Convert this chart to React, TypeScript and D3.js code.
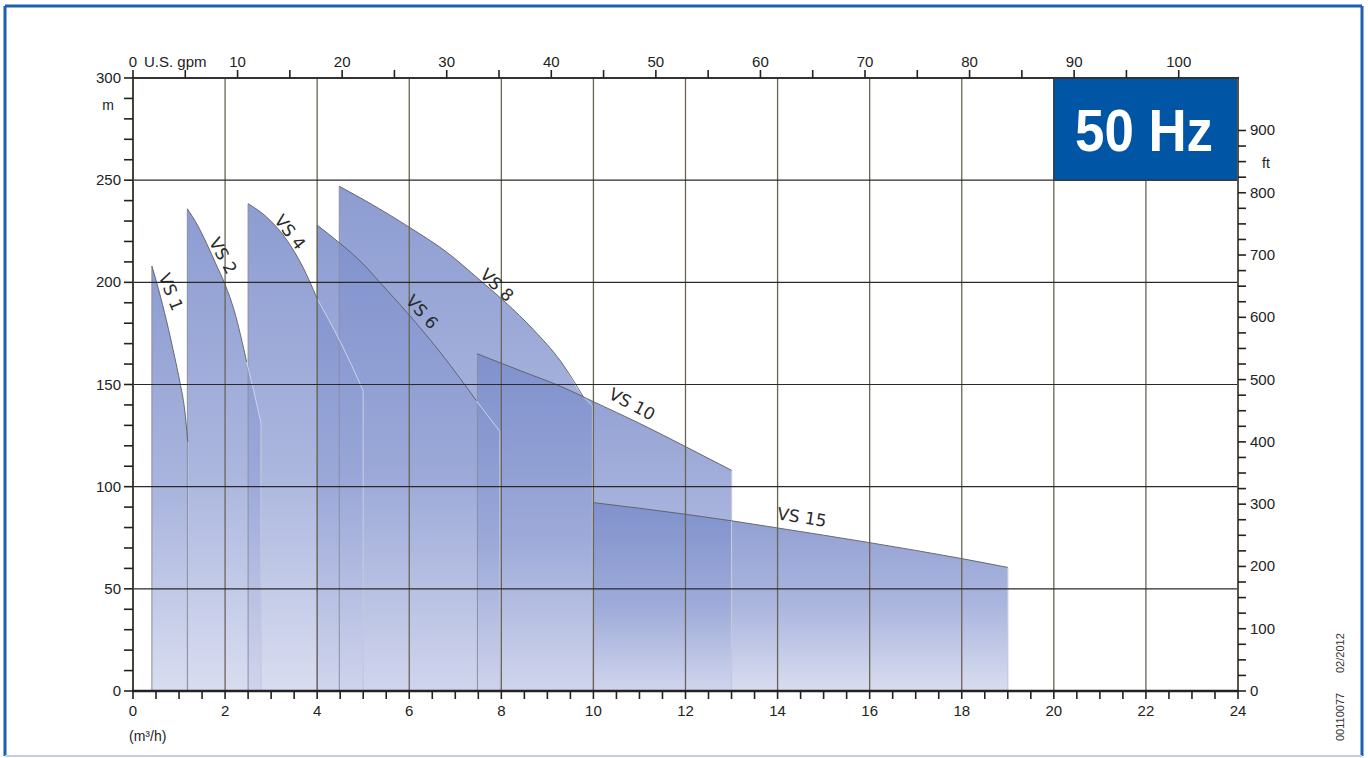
import React from "react";
import * as d3 from "d3";

// ---------- data ----------
const PUMP_NAMES = ["VS 1", "VS 2", "VS 4", "VS 6", "VS 8", "VS 10", "VS 15"];

// main curve points [flow m3/h, head m]
const VS1 = [[0.41, 208], [0.55, 197], [0.73, 181], [0.9, 164], [1.02, 151], [1.12, 138], [1.19, 122]];
const VS2 = [[1.18, 236], [1.4, 228], [1.6, 219], [1.8, 209], [2.0, 199], [2.2, 186], [2.47, 161]];
const VS4 = [[2.5, 238.5], [2.9, 232], [3.3, 222], [3.7, 207], [4.0, 192]];
const VS6 = [[4.0, 228], [4.5, 219], [5.0, 209], [5.36, 200], [6.0, 184], [6.7, 165], [7.46, 142]];
const VS8 = [[4.48, 247], [5.2, 238], [6.0, 227], [6.8, 215], [7.54, 201], [8.1, 190], [8.69, 177], [9.3, 161], [9.78, 144]];
const VS10 = [[7.48, 165], [8.5, 156], [9.3, 149], [10.0, 141.6], [11.0, 131], [12.0, 119.6], [13.0, 108]];
const VS15 = [[10.0, 92.2], [12.0, 86.5], [13.0, 83.3], [14.0, 79.8], [16.0, 72.6], [18.0, 64.8], [19.0, 60.5]];

// faded extensions of the curves
const VS1_EXT: number[][] = [];
const VS2_EXT = [[2.47, 161], [2.62, 147], [2.78, 131]];
const VS4_EXT = [[4.0, 192], [4.5, 171], [5.0, 147]];
const VS6_EXT = [[7.46, 142], [7.97, 127]];
const VS8_EXT = [[9.78, 144], [9.98, 139.5]];
const VS10_EXT: number[][] = [];
const VS15_EXT: number[][] = [];

const MAIN = [VS1, VS2, VS4, VS6, VS8, VS10, VS15];
const EXT = [VS1_EXT, VS2_EXT, VS4_EXT, VS6_EXT, VS8_EXT, VS10_EXT, VS15_EXT];

// label anchor [flow, head, angle]
const LABEL_AT = [
  [0.825, 195.3, 68],
  [1.955, 213, 61],
  [3.41, 224.6, 52],
  [6.28, 185.5, 48],
  [7.905, 198.7, 44],
  [10.84, 140.4, 28],
  [14.53, 85.1, 9],
];

const X_LABELS = [0, 2, 4, 6, 8, 10, 12, 14, 16, 18, 20, 22, 24];
const Y_LABELS = [0, 50, 100, 150, 200, 250, 300];
const GPM_LABELS = [0, 10, 20, 30, 40, 50, 60, 70, 80, 90, 100];
const FT_LABELS = [0, 100, 200, 300, 400, 500, 600, 700, 800, 900];

const M3H_TO_GPM = 4.40287;
const M_TO_FT = 3.28084;

// ---------- layout ----------
const W = 1368;
const H = 758;
const L = 133;
const R = 1238;
const T = 78;
const B = 691;

const x = d3.scaleLinear().domain([0, 24]).range([L, R]);
const y = d3.scaleLinear().domain([0, 300]).range([B, T]);
const xg = d3.scaleLinear().domain([0, 24 * M3H_TO_GPM]).range([L, R]);
const yf = d3.scaleLinear().domain([0, 300 * M_TO_FT]).range([B, T]);

const FONT = "'Liberation Sans', Arial, Helvetica, sans-serif";

export default function App() {
  const area = d3
    .area<number[]>()
    .x((d) => x(d[0]))
    .y0(y(0))
    .y1((d) => y(d[1]))
    .curve(d3.curveMonotoneX);
  const line = d3
    .line<number[]>()
    .x((d) => x(d[0]))
    .y((d) => y(d[1]))
    .curve(d3.curveMonotoneX);

  const bottomTicks = d3.range(0, 24.001, 0.5);
  const leftTicks = d3.range(0, 300.001, 10);
  const topTicks = d3.range(0, 100.001, 5);
  const rightTicks = d3.range(0, 900.001, 25);
  const vGrid = d3.range(2, 23, 2);
  const hGrid = [50, 100, 150, 200, 250];

  return (
    <svg
      width={W}
      height={H}
      viewBox={`0 0 ${W} ${H}`}
      style={{ position: "absolute", left: 0, top: 0, background: "#fff" }}
    >
      <defs>
        <linearGradient id="pumpFill" x1="0" y1="0" x2="0" y2="1">
          <stop offset="0" stopColor="rgb(122,140,202)" stopOpacity={0.86} />
          <stop offset="0.55" stopColor="rgb(150,164,214)" stopOpacity={0.8} />
          <stop offset="1" stopColor="rgb(206,211,236)" stopOpacity={0.78} />
        </linearGradient>
      </defs>

      <rect x={0} y={0} width={W} height={H} fill="#fff" />

      {/* pump areas */}
      {MAIN.map((pts, i) => {
        const all = pts.concat(EXT[i].slice(1));
        return <path key={"a" + i} d={area(all) || ""} fill="url(#pumpFill)" stroke="none" />;
      })}

      {/* edges */}
      {MAIN.map((pts, i) => {
        const all = pts.concat(EXT[i].slice(1));
        const first = all[0];
        const last = all[all.length - 1];
        return (
          <g key={"e" + i}>
            <line x1={x(first[0])} x2={x(first[0])} y1={y(0)} y2={y(first[1])} stroke="#8a8e9e" strokeWidth={1} />
            <line x1={x(last[0])} x2={x(last[0])} y1={y(0)} y2={y(last[1])} stroke="#c4c8dc" strokeWidth={1.2} />
          </g>
        );
      })}

      {/* curve tops */}
      {MAIN.map((pts, i) => (
        <g key={"c" + i}>
          <path d={line(pts) || ""} fill="none" stroke="#5c5c62" strokeWidth={0.9} />
          {EXT[i].length > 1 && (
            <path d={line(EXT[i]) || ""} fill="none" stroke="#cdd2ea" strokeWidth={1} />
          )}
        </g>
      ))}

      {/* grid */}
      {vGrid.map((v) => (
        <line key={"vg" + v} x1={x(v)} x2={x(v)} y1={T} y2={B} stroke="#6b6456" strokeWidth={1.3} />
      ))}
      {hGrid.map((v) => (
        <line key={"hg" + v} x1={L} x2={R} y1={y(v)} y2={y(v)} stroke="#2a2a2a" strokeWidth={1.1} />
      ))}

      {/* 50 Hz box */}
      <rect x={x(20)} y={y(300)} width={x(24) - x(20)} height={y(250) - y(300)} fill="#0055a4" stroke="#333" strokeWidth={1.2} />
      <text
        x={1144}
        y={151}
        fill="#fff"
        fontFamily={FONT}
        fontWeight="bold"
        fontSize={60}
        textAnchor="middle"
        textLength={138}
        lengthAdjust="spacingAndGlyphs"
      >
        50 Hz
      </text>

      {/* axes lines */}
      <line x1={L} x2={L} y1={T} y2={B} stroke="#4a4438" strokeWidth={2} />
      <line x1={R} x2={R} y1={T} y2={B} stroke="#5a5346" strokeWidth={2} />
      <line x1={L - 1} x2={R + 1} y1={T} y2={T} stroke="#333" strokeWidth={2} />
      <line x1={L - 1} x2={R + 1} y1={B} y2={B} stroke="#222" strokeWidth={2.6} />

      {/* bottom ticks */}
      {bottomTicks.map((v) => (
        <line key={"bt" + v} x1={x(v)} x2={x(v)} y1={B} y2={B + 8} stroke="#222" strokeWidth={1.6} />
      ))}
      {X_LABELS.map((v) => (
        <text key={"bl" + v} x={x(v)} y={716} fontFamily={FONT} fontSize={15} fill="#222" textAnchor="middle">
          {v}
        </text>
      ))}
      <text x={129} y={741} fontFamily={FONT} fontSize={14} fill="#222">
        (m³/h)
      </text>

      {/* left ticks */}
      {leftTicks.map((v) => (
        <line key={"lt" + v} x1={L - 9} x2={L} y1={y(v)} y2={y(v)} stroke="#222" strokeWidth={1.6} />
      ))}
      {Y_LABELS.map((v) => (
        <text key={"ll" + v} x={121} y={y(v) + 5} fontFamily={FONT} fontSize={15} fill="#222" textAnchor="end">
          {v}
        </text>
      ))}
      <text x={108} y={110} fontFamily={FONT} fontSize={14} fill="#222" textAnchor="middle">
        m
      </text>

      {/* top ticks */}
      {topTicks.map((v) => (
        <line key={"tt" + v} x1={xg(v)} x2={xg(v)} y1={T - 8} y2={T} stroke="#222" strokeWidth={1.6} />
      ))}
      {GPM_LABELS.map((v) => (
        <text key={"tl" + v} x={xg(v)} y={67} fontFamily={FONT} fontSize={15} fill="#222" textAnchor="middle">
          {v}
        </text>
      ))}
      <text x={144} y={67} fontFamily={FONT} fontSize={15} fill="#222">
        U.S. gpm
      </text>

      {/* right ticks */}
      {rightTicks.map((v) => (
        <line key={"rt" + v} x1={R} x2={R + 8} y1={yf(v)} y2={yf(v)} stroke="#222" strokeWidth={1.6} />
      ))}
      {FT_LABELS.map((v) => (
        <text key={"rl" + v} x={1250} y={yf(v) + 5} fontFamily={FONT} fontSize={15} fill="#222">
          {v}
        </text>
      ))}
      <text x={1266} y={168} fontFamily={FONT} fontSize={14} fill="#222" textAnchor="middle">
        ft
      </text>

      {/* curve labels */}
      {PUMP_NAMES.map((name, i) => {
        const [f, h, a] = LABEL_AT[i];
        const cx = x(f);
        const cy = y(h);
        return (
          <text
            key={"n" + i}
            x={cx}
            y={cy}
            transform={`rotate(${a},${cx},${cy})`}
            fontFamily="'DejaVu Sans', Verdana, sans-serif"
            fontSize={17}
            fill="#2a2a2a"
            textAnchor="middle"
            dominantBaseline="central"
          >
            {name}
          </text>
        );
      })}

      {/* document code */}
      <text x={1344} y={741} transform="rotate(-90,1344,741)" fontFamily={FONT} fontSize={11} fill="#333">
        00110077
      </text>
      <text x={1344} y={673} transform="rotate(-90,1344,673)" fontFamily={FONT} fontSize={11} fill="#333">
        02/2012
      </text>

      {/* frame */}
      <line x1={5} x2={1362} y1={6} y2={6} stroke="#1d5fb2" strokeWidth={3} />
      <line x1={5} x2={5} y1={6} y2={756} stroke="#1d5fb2" strokeWidth={3} />
      <line x1={1362} x2={1362} y1={6} y2={756} stroke="#1d5fb2" strokeWidth={3} />
      <line x1={5} x2={1362} y1={756} y2={756} stroke="#c2cde0" strokeWidth={2} />
    </svg>
  );
}
